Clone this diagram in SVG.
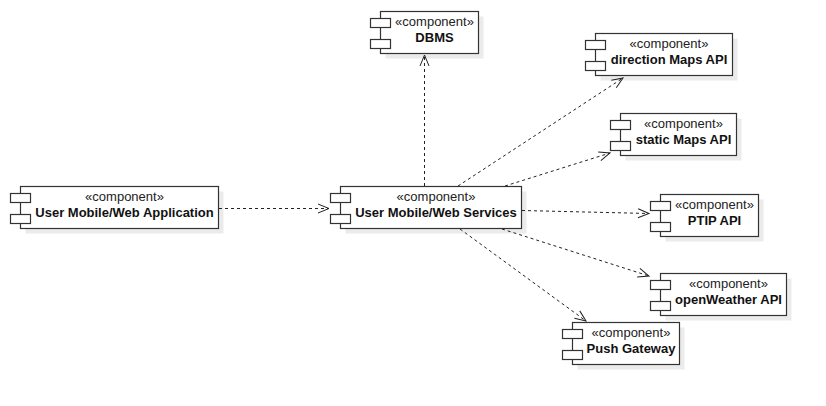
<svg xmlns="http://www.w3.org/2000/svg" width="826" height="406" viewBox="0 0 826 406">
<defs>
<style>
.shadow{fill:#ebebeb;stroke:none}
.box{fill:#fff;stroke:#333;stroke-width:1.2}
.icon{fill:#fff;stroke:#333;stroke-width:1.2}
.st{font-family:"Liberation Sans",Arial,sans-serif;font-size:13px;fill:#222;text-anchor:middle}
.nm{font-family:"Liberation Sans",Arial,sans-serif;font-size:13px;font-weight:bold;fill:#111;text-anchor:middle}
.dep{fill:none;stroke:#222;stroke-width:1;stroke-dasharray:3,3;marker-end:url(#open)}
</style>
<marker id="open" markerUnits="userSpaceOnUse" markerWidth="14" markerHeight="12" refX="11" refY="4.5" orient="auto" viewBox="-1 -1 14 12">
<path d="M0,0 L11,4.5 L0,9" fill="none" stroke="#222" stroke-width="1"/>
</marker>
</defs>
<rect width="826" height="406" fill="#fff"/>

<g id="app">
<rect class="shadow" x="25.5" y="191.5" width="198" height="42"/>
<rect class="box" x="20.5" y="186.5" width="198" height="42"/>
<rect class="icon" x="10.5" y="193.5" width="20" height="9"/>
<rect class="icon" x="10.5" y="214.5" width="20" height="9"/>
<text class="st" x="124.5" y="200.5">«component»</text>
<text class="nm" x="124.5" y="216.5">User Mobile/Web Application</text>
</g>

<g id="services">
<rect class="shadow" x="345.5" y="191.5" width="181" height="42"/>
<rect class="box" x="340.5" y="186.5" width="181" height="42"/>
<rect class="icon" x="330.5" y="193.5" width="20" height="9"/>
<rect class="icon" x="330.5" y="214.5" width="20" height="9"/>
<text class="st" x="436" y="200.5">«component»</text>
<text class="nm" x="436" y="216.5">User Mobile/Web Services</text>
</g>

<g id="dbms">
<rect class="shadow" x="385.5" y="16.5" width="98" height="42"/>
<rect class="box" x="380.5" y="11.5" width="98" height="42"/>
<rect class="icon" x="370.5" y="18.5" width="20" height="9"/>
<rect class="icon" x="370.5" y="39.5" width="20" height="9"/>
<text class="st" x="434.5" y="25.5">«component»</text>
<text class="nm" x="434.5" y="41.5">DBMS</text>
</g>

<g id="direction">
<rect class="shadow" x="600.5" y="38.5" width="137" height="42"/>
<rect class="box" x="595.5" y="33.5" width="137" height="42"/>
<rect class="icon" x="585.5" y="40.5" width="20" height="9"/>
<rect class="icon" x="585.5" y="61.5" width="20" height="9"/>
<text class="st" x="669" y="47.5">«component»</text>
<text class="nm" x="669" y="63.5">direction Maps API</text>
</g>

<g id="static">
<rect class="shadow" x="625.5" y="118.5" width="116" height="42"/>
<rect class="box" x="620.5" y="113.5" width="116" height="42"/>
<rect class="icon" x="610.5" y="120.5" width="20" height="9"/>
<rect class="icon" x="610.5" y="141.5" width="20" height="9"/>
<text class="st" x="683.5" y="127.5">«component»</text>
<text class="nm" x="683.5" y="143.5">static Maps API</text>
</g>

<g id="ptip">
<rect class="shadow" x="665.5" y="199.5" width="98" height="42"/>
<rect class="box" x="660.5" y="194.5" width="98" height="42"/>
<rect class="icon" x="650.5" y="201.5" width="20" height="9"/>
<rect class="icon" x="650.5" y="222.5" width="20" height="9"/>
<text class="st" x="714.5" y="208.5">«component»</text>
<text class="nm" x="714.5" y="224.5">PTIP API</text>
</g>

<g id="openweather">
<rect class="shadow" x="665.5" y="278.5" width="126" height="42"/>
<rect class="box" x="660.5" y="273.5" width="126" height="42"/>
<rect class="icon" x="650.5" y="280.5" width="20" height="9"/>
<rect class="icon" x="650.5" y="301.5" width="20" height="9"/>
<text class="st" x="728.5" y="287.5">«component»</text>
<text class="nm" x="728.5" y="303.5">openWeather API</text>
</g>

<g id="push">
<rect class="shadow" x="577.5" y="327.5" width="107" height="42"/>
<rect class="box" x="572.5" y="322.5" width="107" height="42"/>
<rect class="icon" x="562.5" y="329.5" width="20" height="9"/>
<rect class="icon" x="562.5" y="350.5" width="20" height="9"/>
<text class="st" x="631" y="336.5">«component»</text>
<text class="nm" x="631" y="352.5">Push Gateway</text>
</g>

<g id="connectors">
<path class="dep" d="M219,208.5 L329,208.5"/>
<path class="dep" d="M424.5,186 L424.5,55"/>
<path class="dep" d="M458,186 L623,78"/>
<path class="dep" d="M505,186 L610,153"/>
<path class="dep" d="M522,210.5 L649,213.5"/>
<path class="dep" d="M502,229 L649,276"/>
<path class="dep" d="M460,229 L586,321"/>
</g>
</svg>
